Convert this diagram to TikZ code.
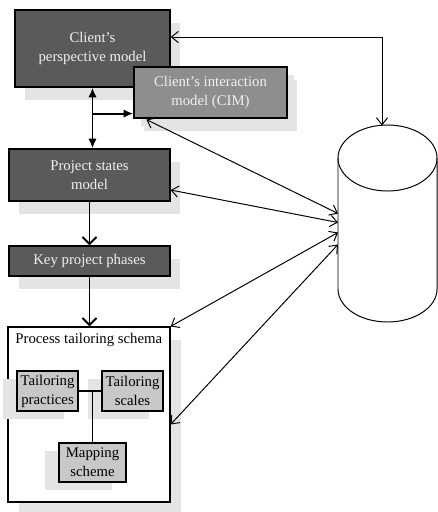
\documentclass[tikz,border=0pt]{standalone}
\usepackage{fontspec}
\setmainfont{Liberation Serif}
\definecolor{DarkBox}{HTML}{5A5A5A}
\definecolor{MidBox}{HTML}{8E8E8E}
\definecolor{LightBox}{HTML}{C8C8C8}
\definecolor{ShadowGray}{HTML}{E4E4E4}
\definecolor{PaleText}{HTML}{F0F0F0}
\usetikzlibrary{
  arrows.meta,
  positioning,
  calc,
  shadows
}

\begin{document}
\begin{tikzpicture}[
  x=0.025cm, y=-0.025cm,
  font=\fontsize{10.5}{13.5}\selectfont,
  darkbox/.style={
    rectangle, draw=black, line width=0.8pt,
    fill=DarkBox, text=PaleText, align=center,
    drop shadow={shadow xshift=7pt, shadow yshift=-9pt,
      fill=ShadowGray, opacity=1}
  },
  greybox/.style={
    darkbox, fill=MidBox,
    drop shadow={shadow xshift=5pt, shadow yshift=-6pt,
      fill=ShadowGray, opacity=1}
  },
  smallbox/.style={
    rectangle, draw=black, line width=0.8pt,
    fill=LightBox, align=center, inner sep=1pt,
    drop shadow={shadow xshift=-10pt, shadow yshift=-6pt,
      fill=ShadowGray, opacity=1}
  },
  schemabox/.style={
    rectangle, draw=black, line width=0.8pt, fill=white,
    drop shadow={shadow xshift=8pt, shadow yshift=-9pt,
      fill=ShadowGray, opacity=1}
  },
  spine/.style={line width=1.4pt},
  link/.style={line width=0.7pt,
    {Straight Barb[length=5pt,width=8pt]}-{Straight Barb[length=5pt,width=8pt]}}
]
  % Canvas (438 x 512 px)
  \useasboundingbox (0,0) rectangle (438,512);

  % Model boxes on the left
  \node (cpm) at (92.5,48.5) [darkbox,
    minimum width=3.875cm, minimum height=1.925cm]
    {Client's\\perspective model};
  \node (cim) at (210.5,92.5) [greybox,
    minimum width=3.825cm, minimum height=1.275cm]
    {Client's interaction\\model (CIM)};
  \node (psm) at (89.5,175) [darkbox,
    minimum width=4.025cm, minimum height=1.3cm]
    {Project states\\model};
  \node (kpp) at (89.5,261) [darkbox,
    minimum width=4.025cm, minimum height=0.75cm]
    {Key project phases};

  % Tailoring schema with its parts
  \node (pts) at (89,414.5) [schemabox,
    minimum width=4.05cm, minimum height=4.375cm] {};
  \node (ptstitle) [anchor=north west]
    at ($(pts.north west)+(3,2)$) {Process tailoring schema};
  \node (tp) at (47.5,391) [smallbox,
    minimum width=1.525cm, minimum height=1cm]
    {Tailoring\\practices};
  \node (ts) at (132.5,391) [smallbox,
    minimum width=1.525cm, minimum height=1cm]
    {Tailoring\\scales};
  \node (ms) at (92.5,462.5) [smallbox,
    minimum width=1.675cm, minimum height=0.975cm]
    {Mapping\\scheme};

  % Repository (cylinder, radii 49.5 x 33 px)
  \draw[line width=0.7pt] (387.5,158)
    ellipse [x radius=1.2375cm, y radius=0.825cm];
  \draw[line width=0.7pt] (338,158) -- (338,289)
    arc[start angle=180, end angle=360,
        x radius=1.2375cm, y radius=0.825cm]
    -- (437,158);
  \coordinate (dbtop) at (382,125.5);
  \coordinate (dbwest) at (338,223.5);

  % Left spine
  \draw[spine, {Latex[length=7pt,width=6pt]}-{Latex[length=7pt,width=6pt]}]
    (cpm.south) -- (cpm.south |- psm.north);
  \coordinate (cimin) at ($(cim.south west)+(0,-5)$);
  \draw[spine, -{Latex[length=7pt,width=6pt]}]
    (cpm.south |- cimin) -- (cimin);
  \draw[spine, -{Straight Barb[length=5pt,width=10pt]}]
    (psm.south) -- (psm.south |- kpp.north);
  \draw[spine, -{Straight Barb[length=5pt,width=10pt]}]
    (kpp.south) -- (kpp.south |- pts.north);

  % Inner links
  \draw[line width=0.8pt] (tp) -- (ts);
  \draw[line width=0.8pt] (ms.north) -- (ms.north |- tp.east);

  % Links to the repository
  \draw[link] ($(cpm.east)+(0,-11.5)$) -| (dbtop);
  \draw[link] ($(cim.south west)+(13,1)$) -- ($(dbwest)+(0,-10)$);
  \draw[link] ($(psm.east)+(0,15)$) -- ($(dbwest)+(0,-1)$);
  \draw[link] (pts.north east) -- ($(dbwest)+(0,9)$);
  \draw[link] ($(pts.east)+(0,10)$) -- ($(dbwest)+(0,21)$);
\end{tikzpicture}
\end{document}
